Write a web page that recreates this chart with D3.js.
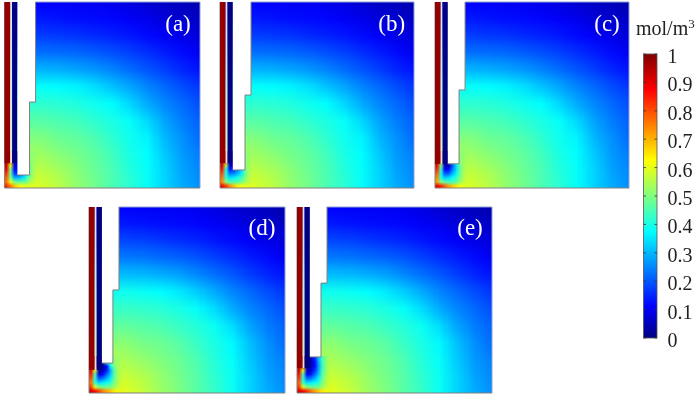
<!DOCTYPE html>
<html><head><meta charset="utf-8">
<script src="https://cdn.jsdelivr.net/npm/d3@7/dist/d3.min.js"></script>
<style>html,body{margin:0;padding:0;background:#fff;overflow:hidden}svg{display:block;filter:blur(.35px)}text{font-family:"Liberation Serif","Times New Roman",serif}</style>
</head><body><svg id="c" width="700" height="395"></svg>
<script>
const panelNames = ["(a)","(b)","(c)","(d)","(e)"];
const colorbarTicks = [0,0.1,0.2,0.3,0.4,0.5,0.6,0.7,0.8,0.9,1];
const unitLabel = "mol/m";
// concentration, rows top to bottom, columns left to right
const fieldUpper = [
[.11,.11,.11,.105,.10,.10,.095,.085,.07,.06,.05,.04],
[.135,.135,.135,.13,.125,.12,.115,.105,.095,.08,.07,.06],
[.175,.175,.175,.17,.165,.155,.145,.135,.12,.105,.09,.08],
[.23,.23,.23,.225,.22,.21,.195,.18,.16,.14,.12,.10],
[.30,.30,.30,.295,.285,.27,.25,.225,.20,.175,.15,.13],
[.38,.38,.38,.375,.365,.345,.315,.285,.25,.22,.19,.165],
[.42,.42,.42,.415,.405,.39,.375,.335,.29,.25,.22,.19],
[.46,.46,.46,.45,.44,.42,.40,.38,.335,.28,.24,.21],
[.50,.50,.50,.48,.47,.45,.42,.39,.365,.30,.26,.22],
[.54,.54,.53,.51,.49,.47,.44,.40,.375,.32,.27,.24],
[.58,.58,.56,.54,.51,.48,.45,.41,.38,.33,.28,.25],
[.62,.62,.59,.56,.52,.49,.45,.42,.38,.33,.29,.26]];
const fieldLower = [
[.11,.11,.11,.105,.10,.10,.095,.085,.07,.06,.05,.04],
[.135,.135,.135,.13,.125,.12,.115,.105,.095,.08,.07,.06],
[.185,.185,.185,.18,.17,.16,.15,.135,.12,.105,.09,.08],
[.24,.24,.24,.235,.225,.215,.20,.18,.16,.14,.12,.10],
[.31,.31,.31,.305,.295,.28,.255,.23,.205,.175,.15,.13],
[.39,.39,.39,.385,.375,.355,.325,.29,.25,.22,.19,.165],
[.43,.43,.43,.425,.415,.40,.38,.34,.29,.25,.22,.19],
[.47,.47,.47,.46,.45,.43,.41,.385,.34,.28,.24,.21],
[.51,.51,.51,.49,.48,.46,.43,.40,.37,.31,.26,.22],
[.55,.55,.54,.52,.50,.48,.45,.41,.38,.32,.27,.24],
[.59,.59,.57,.55,.52,.49,.46,.42,.385,.33,.28,.25],
[.64,.64,.60,.57,.53,.50,.46,.43,.385,.33,.29,.26]];
const cornerA = [
[.97,.8,.03,.03,.4,.45,.5,.5,.52],
[.97,.8,.03,.03,.4,.45,.5,.5,.52],
[.97,.8,.03,.03,.4,.45,.5,.5,.53],
[.92,.6,.08,.08,.2,.35,.45,.5,.54],
[.88,.5,.12,.12,.2,.33,.44,.5,.54],
[.82,.48,.18,.16,.24,.36,.45,.5,.55],
[.78,.5,.3,.3,.34,.4,.46,.51,.56],
[.76,.6,.5,.47,.47,.49,.52,.54,.57],
[.84,.76,.68,.64,.62,.6,.59,.59,.59]];
const cornerB = [
[.97,.8,.03,.03,.4,.45,.5,.5,.52],
[.97,.8,.03,.03,.4,.45,.5,.5,.52],
[.97,.8,.03,.03,.4,.45,.5,.5,.53],
[.92,.55,.06,.06,.25,.38,.48,.5,.54],
[.86,.42,.14,.16,.24,.34,.44,.5,.54],
[.8,.4,.24,.26,.3,.36,.43,.49,.55],
[.76,.42,.34,.36,.4,.43,.46,.5,.56],
[.74,.5,.46,.45,.46,.48,.5,.52,.57],
[.88,.82,.74,.68,.64,.62,.6,.6,.6]];
const cornerC = [
[.97,.8,.03,.03,.4,.45,.5,.5,.52],
[.97,.8,.03,.03,.4,.45,.5,.5,.52],
[.97,.8,.03,.03,.4,.45,.5,.5,.53],
[.9,.5,.05,.05,.2,.35,.45,.5,.54],
[.84,.42,.1,.12,.24,.34,.43,.5,.54],
[.78,.4,.2,.22,.3,.37,.44,.5,.55],
[.74,.4,.32,.34,.38,.42,.46,.5,.56],
[.72,.5,.46,.44,.44,.46,.49,.52,.57],
[.9,.85,.78,.72,.68,.65,.62,.6,.6]];
const cornerD = [
[.98,.9,.03,.03,.4,.45,.5,.52,.53],
[.98,.9,.03,.03,.4,.45,.5,.52,.53],
[.96,.85,.03,.03,.1,.38,.46,.51,.53],
[.9,.6,.04,.04,.14,.3,.42,.5,.54],
[.85,.45,.08,.12,.22,.32,.42,.49,.54],
[.8,.42,.2,.24,.3,.36,.43,.49,.55],
[.76,.42,.34,.36,.39,.42,.46,.5,.56],
[.82,.6,.5,.48,.48,.49,.5,.52,.57],
[.92,.87,.81,.75,.71,.68,.65,.62,.61]];
const cornerE = [
[.98,.9,.03,.05,.15,.3,.4,.48,.53],
[.98,.88,.03,.05,.12,.28,.38,.47,.53],
[.96,.82,.04,.05,.12,.26,.37,.46,.53],
[.92,.6,.06,.07,.16,.28,.38,.46,.54],
[.86,.45,.1,.13,.22,.31,.4,.47,.54],
[.82,.42,.22,.24,.3,.36,.42,.48,.55],
[.78,.43,.34,.36,.38,.41,.45,.5,.56],
[.82,.6,.5,.48,.48,.48,.5,.52,.57],
[.92,.88,.83,.77,.72,.68,.65,.62,.61]];
const panelFields = [fieldUpper,fieldUpper,fieldUpper,fieldLower,fieldLower];
const panelCorners = [cornerA,cornerB,cornerC,cornerD,cornerE];
// electrode geometry, percent of panel width / height
const upperEdge = [15.9,16.0,15.5,15.3,15.4];
const lowerEdge = [12.8,12.9,12.4,12.2,12.3];
const stepLevel = [53.8,50.0,47.3,44.6,40.9];
const bottomLevel = [93.0,90.3,87.0,83.9,80.6];
const gapLevel = [86.6,86.6,87.0,87.6,86.6];

const jetStops = [[0,"#000080"],[.11,"#0000ff"],[.375,"#00ffff"],[.625,"#ffff00"],[.875,"#ff0000"],[1,"#800000"]];
const color = d3.scaleLinear().domain(jetStops.map(d=>d[0])).range(jetStops.map(d=>d[1])).clamp(true);

const frames = [[4.5,2,195.5,186],[220,2,194,186],[435,2,194,186],[89,207,196,186],[297,207,195,186]];
const labelAt = [[178,31],[391.7,31],[607,31],[262,235],[470,235]];
const svg = d3.select("#c");
const defs=svg.append("defs");
const fade=defs.append("linearGradient").attr("id","fade").attr("x1",0).attr("x2",1).attr("y1",0).attr("y2",0);
[[0,"#fff"],[.6,"#fff"],[1,"#000"]].forEach(s=>fade.append("stop").attr("offset",s[0]).attr("stop-color",s[1]));
defs.append("mask").attr("id","cornerMask").attr("maskContentUnits","objectBoundingBox")
  .append("rect").attr("width",1).attr("height",1).attr("fill","url(#fade)");
function gridImage(grid){
  const h=grid.length,w=grid[0].length,cv=document.createElement("canvas");
  cv.width=w;cv.height=h;const ctx=cv.getContext("2d");
  grid.forEach((row,j)=>row.forEach((v,i)=>{ctx.fillStyle=color(v);ctx.fillRect(i,j,1,1);}));
  return cv.toDataURL();
}
panelNames.forEach((name,k)=>{
  const [fx,fy,fw,fh]=frames[k];
  const x=d3.scaleLinear().domain([0,100]).range([fx,fx+fw]);
  const y=d3.scaleLinear().domain([0,100]).range([fy,fy+fh]);
  const g=svg.append("g");
  defs.append("clipPath").attr("id","clip"+k).append("rect").attr("x",fx).attr("y",fy).attr("width",fw).attr("height",fh);
  const half=100/22;
  g.append("g").attr("clip-path",`url(#clip${k})`).append("image").attr("href",gridImage(panelFields[k]))
   .attr("x",x(-half)).attr("y",y(-half)).attr("width",x(100+half)-x(-half)).attr("height",y(100+half)-y(-half))
   .attr("preserveAspectRatio","none");
  g.append("image").attr("href",gridImage(panelCorners[k])).attr("x",x(0)).attr("y",y(80))
   .attr("width",x(18)-x(0)).attr("height",y(100)-y(80)).attr("preserveAspectRatio","none").attr("mask","url(#cornerMask)");
  g.append("path").attr("fill","none").attr("stroke","#8ea0d0").attr("stroke-width",1)
   .attr("d",d3.line()([[x(upperEdge[k]),y(0)],[x(100),y(0)],[x(100),y(100)]]));
  g.append("path").attr("fill","none").attr("stroke","#808080").attr("stroke-width",1)
   .attr("d",d3.line()([[x(0),y(0)],[x(0),y(100)],[x(100),y(100)]]));
  g.append("rect").attr("x",x(0)).attr("y",y(0)).attr("width",x(2.9)-x(0)).attr("height",y(gapLevel[k])-y(0)).attr("fill",color(.98));
  g.append("rect").attr("x",x(2.9)).attr("y",y(0)).attr("width",x(3.9)-x(2.9)).attr("height",y(gapLevel[k])-y(0)).attr("fill","#e4e4e4");
  g.append("rect").attr("x",x(3.9)).attr("y",y(0)).attr("width",x(6.6)-x(3.9)).attr("height",y(gapLevel[k])-y(0)).attr("fill",color(0));
  const voidPts=[[x(6.6),y(0)],[x(upperEdge[k]),y(0)],[x(upperEdge[k]),y(stepLevel[k])],[x(lowerEdge[k]),y(stepLevel[k])],[x(lowerEdge[k]),y(bottomLevel[k])],[x(6.6),y(bottomLevel[k])]];
  g.append("path").attr("fill","#fff").attr("d",d3.line()(voidPts)+"Z");
  g.append("path").attr("fill","none").attr("stroke","#808080").attr("stroke-width",1).attr("d",d3.line()(voidPts.slice(1)));
  g.append("text").attr("x",labelAt[k][0]).attr("y",labelAt[k][1]).attr("text-anchor","middle")
   .attr("fill","#fff").attr("font-size",23).text(name);
});
const cbY=d3.scaleLinear().domain([0,1]).range([338,54]);
const lg=defs.append("linearGradient").attr("id","jet").attr("x1",0).attr("x2",0).attr("y1",1).attr("y2",0);
jetStops.forEach(s=>lg.append("stop").attr("offset",s[0]).attr("stop-color",s[1]));
svg.append("rect").attr("x",643.5).attr("y",cbY(1)).attr("width",13.5).attr("height",cbY(0)-cbY(1)).attr("fill","url(#jet)").attr("stroke","#555").attr("stroke-width",.8);
const ticks=svg.append("g");
ticks.selectAll("path").data(colorbarTicks).join("path").attr("stroke","#333").attr("stroke-width",.8).attr("fill","none")
 .attr("d",d=>`M643.5,${cbY(d)}h2.5M657,${cbY(d)}h-2.5`);
ticks.selectAll("text").data(colorbarTicks).join("text").attr("x",667.5).attr("y",d=>cbY(d)+9)
 .attr("font-size",20).attr("fill","#222").text(d=>String(d));
const u=svg.append("text").attr("x",636).attr("y",35).attr("font-size",20).attr("fill","#222").text(unitLabel);
u.append("tspan").attr("font-size",13).attr("dy",-7).text("3");
</script></body></html>
